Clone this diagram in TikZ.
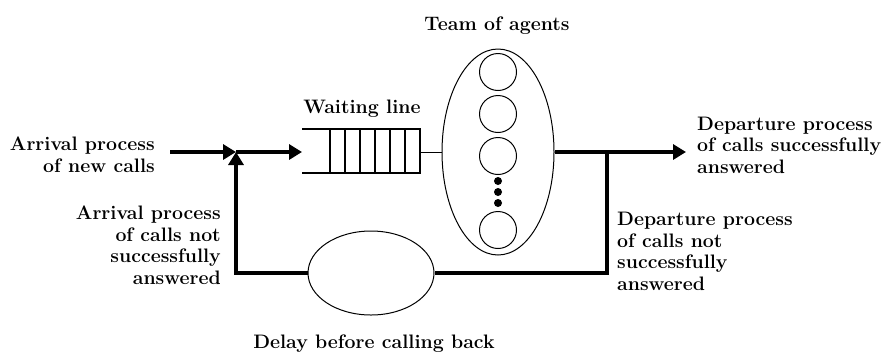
\documentclass[tikz,border=0pt]{standalone}
\usetikzlibrary{positioning,shapes.geometric,arrows.meta}

\begin{document}
\begin{tikzpicture}[x=1pt,y=-1pt,
  flow/.style={line width=4.5pt},
  tip/.style={-{Triangle[length=13pt,width=15pt]}},
  thin/.style={line width=1pt},
  lbl/.style={font=\bfseries\fontsize{19.5}{21.5}\selectfont, inner sep=0pt}]
\useasboundingbox (0,0) rectangle (890,354);

\def\ym{152}
\def\yb{273}
\def\xj{236}
\def\xs{607}

\coordinate (in) at (170,\ym);
\coordinate (join) at (\xj,\ym);
\coordinate (qin) at (302,\ym);
\coordinate (qout) at (420,\ym);
\coordinate (split) at (\xs,\ym);
\coordinate (out) at (686,\ym);

% waiting line
\draw[line width=1.7pt] (302,129) -- (420,129) -- (420,173) -- (302,173);
\foreach \x in {330,345,...,405}
  \draw[line width=1.7pt] (\x,129) -- (\x,173);

% team of agents
\node[ellipse, draw, thin, minimum width=112pt, minimum height=206pt, inner sep=0pt] (team) at (498,\ym) {};
\foreach \y [count=\i] in {72,114,156,230}
  \node[circle, draw, thin, minimum size=37pt, inner sep=0pt] (ag\i) at (498,\y) {};
\foreach \y in {181,192,203}
  \fill (498,\y) circle (4pt);

% delay
\node[ellipse, draw, thin, minimum width=126pt, minimum height=84pt, inner sep=0pt] (delay) at (371,\yb) {};

\draw[flow,tip] (in) -- (join);
\draw[flow,tip] (join) -- (qin);
\draw[thin] (qout) -- (team.west);
\draw[flow] (team.east) -- (split);
\draw[flow,tip] (split) -- (out);
\draw[flow] (split) |- (delay.east);
\draw[flow,tip] (delay.west) -| (join);

\node[lbl, anchor=base] (teamlbl) at (497,30) {Team of agents};
\node[lbl, anchor=base] (qlbl) at (362,113) {Waiting line};
\node[lbl, anchor=base] (delaylbl) at (374,348) {Delay before calling back};
% multi-line labels: base is the last line
\node[lbl, anchor=base east, align=right] (newlbl) at (155,172) {Arrival process\\of new calls};
\node[lbl, anchor=base east, align=right] (retlbl) at (221,284) {Arrival process\\of calls not\\successfully\\answered};
\node[lbl, anchor=base west, align=left] (oklbl) at (697,173) {Departure process\\of calls successfully\\answered};
\node[lbl, anchor=base west, align=left] (faillbl) at (617,290) {Departure process\\of calls not\\successfully\\answered};

\end{tikzpicture}
\end{document}
